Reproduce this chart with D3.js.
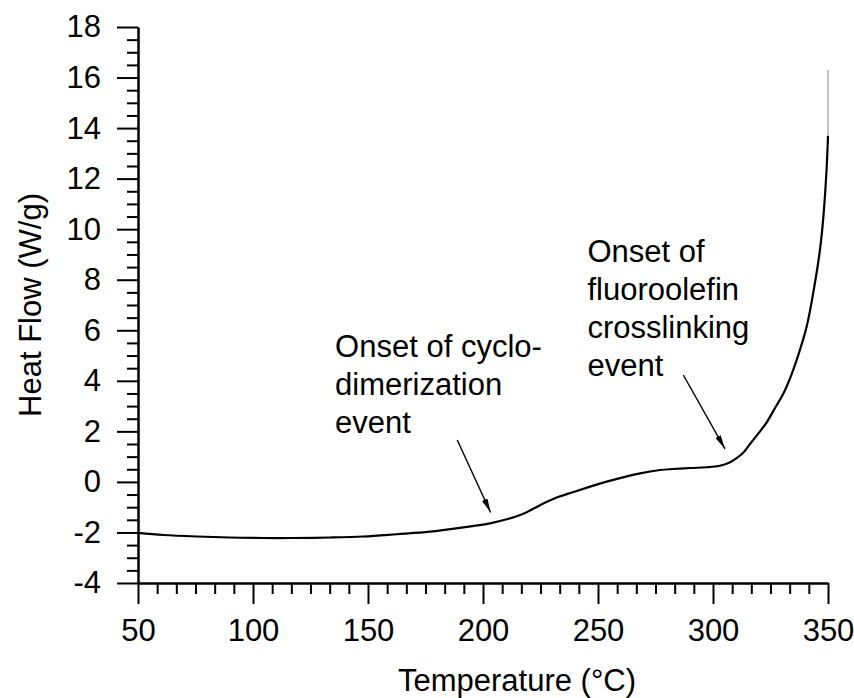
<!DOCTYPE html>
<html>
<head>
<meta charset="utf-8">
<script src="https://cdn.jsdelivr.net/npm/d3@7"></script>
<style>
  html, body { margin: 0; padding: 0; background: #fff; }
  svg { display: block; }
  text { font-family: "Liberation Sans", Arial, Helvetica, sans-serif; fill: #000; }
</style>
</head>
<body>
<svg id="chart" width="854" height="698"></svg>
<script>
// ---- data ----
const temperature = [50, 61, 75.5, 90, 104.5, 117.5, 133.5, 148, 162.5, 177, 191.4, 203, 210.3, 217.5, 224.8, 232, 239.3, 253.8, 268.3, 277, 282.7, 290, 297.3, 303, 307, 310, 313, 316.1, 320, 323.3, 326.5, 330.6, 333.5, 336.4, 340.7, 344.3, 346.5, 348, 349.4, 350, 350];
const heatFlow    = [-2.02, -2.10, -2.16, -2.20, -2.22, -2.22, -2.20, -2.16, -2.07, -1.97, -1.80, -1.64, -1.48, -1.26, -0.92, -0.62, -0.40, 0.01, 0.34, 0.47, 0.51, 0.55, 0.58, 0.64, 0.76, 0.92, 1.14, 1.50, 1.95, 2.35, 2.85, 3.50, 4.10, 4.83, 6.14, 7.86, 9.18, 10.5, 12.4, 13.7, 16.3];
const xTicks = [50, 100, 150, 200, 250, 300, 350];
const yTicks = [-4, -2, 0, 2, 4, 6, 8, 10, 12, 14, 16, 18];
const xTitle = "Temperature (°C)";
const yTitle = "Heat Flow (W/g)";
const annotations = [
  { lines: ["Onset of cyclo-", "dimerization", "event"], textX: 135.7, textY: 4.95, fromX: 188.8, fromY: 1.66, toX: 203.3, toY: -1.21 },
  { lines: ["Onset of", "fluoroolefin", "crosslinking", "event"], textX: 245.4, textY: 8.71, fromX: 287.1, fromY: 4.23, toX: 305.2, toY: 1.31 }
];

// ---- layout ----
const svg = d3.select("#chart");
const mLeft = 138, mRight = 828, mTop = 27, mBottom = 583;
const x = d3.scaleLinear().domain([50, 350]).range([mLeft, mRight]);
const y = d3.scaleLinear().domain([-4, 18]).range([mBottom, mTop]);
const fontSize = 31;

// minor ticks
const xMinor = d3.range(0, 37).map(i => 50 + i * 50 / 6).filter(v => v <= 350.001 && Math.abs(((v - 50) / 50) - Math.round((v - 50) / 50)) > 1e-6);
const yMinor = d3.range(-4, 18.001, 0.5).filter(v => Math.abs(v / 2 - Math.round(v / 2)) > 1e-6);

function styleAxis(g) {
  g.selectAll("path.domain").attr("stroke", "#000").attr("stroke-width", 2);
  g.selectAll("line").attr("stroke", "#000").attr("stroke-width", 2);
  g.selectAll("text").attr("font-size", fontSize)
    .style("font-family", "Liberation Sans, Arial, sans-serif").attr("fill", "#000");
}
const fmt = d => String(d);

// x axis
const gxMinor = svg.append("g").attr("transform", `translate(0,${mBottom})`)
  .call(d3.axisBottom(x).tickValues(xMinor).tickSize(11).tickSizeOuter(0).tickFormat(""));
styleAxis(gxMinor);
const gx = svg.append("g").attr("transform", `translate(0,${mBottom})`)
  .call(d3.axisBottom(x).tickValues(xTicks).tickSize(21).tickSizeOuter(0).tickPadding(15).tickFormat(fmt));
styleAxis(gx);

// y axis
const gyMinor = svg.append("g").attr("transform", `translate(${mLeft},0)`)
  .call(d3.axisLeft(y).tickValues(yMinor).tickSize(11).tickSizeOuter(0).tickFormat(""));
styleAxis(gyMinor);
const gy = svg.append("g").attr("transform", `translate(${mLeft},0)`)
  .call(d3.axisLeft(y).tickValues(yTicks).tickSize(21).tickSizeOuter(0).tickPadding(16).tickFormat(fmt));
styleAxis(gy);

// axis titles
svg.append("text")
  .attr("x", 517).attr("y", 691)
  .attr("text-anchor", "middle")
  .attr("font-size", fontSize)
  .text(xTitle);
svg.append("text")
  .attr("transform", `translate(41,${(mTop + mBottom) / 2}) rotate(-90)`)
  .attr("text-anchor", "middle")
  .attr("font-size", fontSize)
  .text(yTitle);

// curve
const pts = temperature.map((t, i) => [t, heatFlow[i]]);
const mainPts = pts.slice(0, pts.length - 1);
svg.append("path")
  .attr("d", d3.line().x(d => x(d[0])).y(d => y(d[1])).curve(d3.curveCatmullRom.alpha(0.5))(mainPts))
  .attr("fill", "none").attr("stroke", "#000").attr("stroke-width", 2.2);
svg.append("path")
  .attr("d", d3.line().x(d => x(d[0])).y(d => y(d[1]))(pts.slice(pts.length - 2)))
  .attr("fill", "none").attr("stroke", "#999").attr("stroke-width", 1.2);

// arrows
const defs = svg.append("defs");
defs.append("marker")
  .attr("id", "arrow").attr("viewBox", "0 0 14 6")
  .attr("refX", 14).attr("refY", 3)
  .attr("markerWidth", 14).attr("markerHeight", 6)
  .attr("markerUnits", "userSpaceOnUse")
  .attr("orient", "auto")
  .append("path").attr("d", "M0,0 L14,3 L0,6 Z").attr("fill", "#000");

annotations.forEach(a => {
  const t = svg.append("text")
    .attr("x", x(a.textX)).attr("y", y(a.textY))
    .attr("font-size", fontSize);
  a.lines.forEach((ln, i) => {
    t.append("tspan").attr("x", x(a.textX)).attr("dy", i === 0 ? 0 : 38).text(ln);
  });
  svg.append("line")
    .attr("x1", x(a.fromX)).attr("y1", y(a.fromY))
    .attr("x2", x(a.toX)).attr("y2", y(a.toY))
    .attr("stroke", "#000").attr("stroke-width", 1.4)
    .attr("marker-end", "url(#arrow)");
});
</script>
</body>
</html>
